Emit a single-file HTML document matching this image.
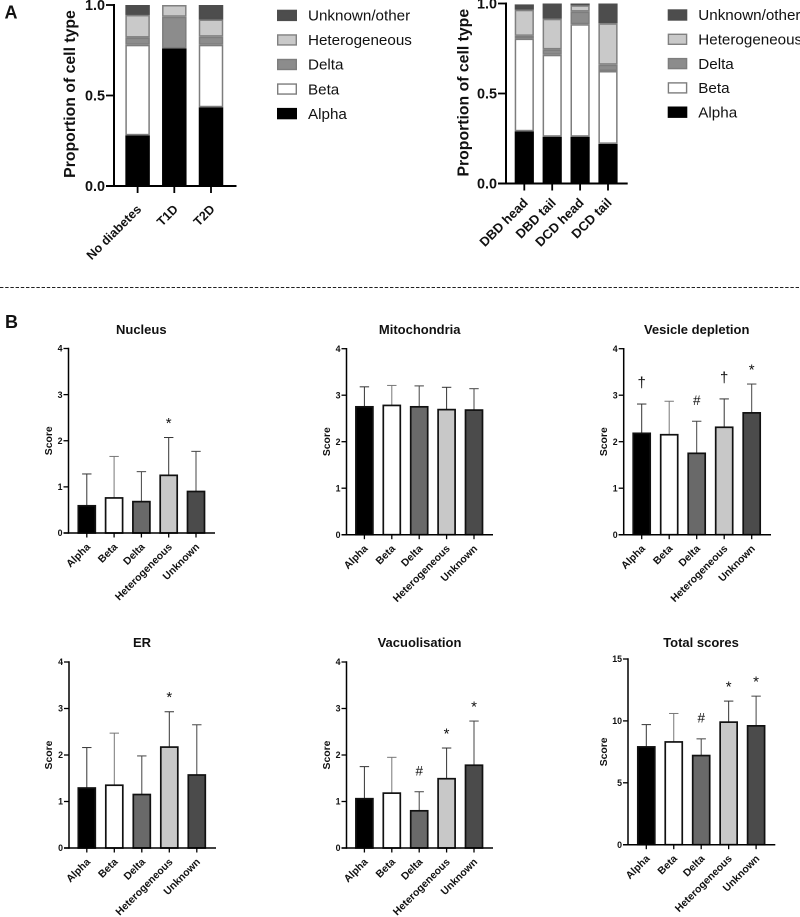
<!DOCTYPE html>
<html lang="en">
<head>
<meta charset="utf-8">
<title>Cell type proportions and scores</title>
<style>
html,body{margin:0;padding:0;background:#fff;width:800px;height:917px;overflow:hidden}
svg{display:block;filter:blur(0.3px)}
text{font-family:"Liberation Sans",sans-serif;fill:#111}
</style>
</head>
<body>
<svg id="figure" xmlns="http://www.w3.org/2000/svg" width="800" height="917" viewBox="0 0 800 917">
  <text x="4.5" y="18.5" font-size="18" font-weight="700">A</text>
  <text x="5" y="328" font-size="18" font-weight="700">B</text>
  <line x1="0" y1="287.5" x2="800" y2="287.5" stroke="#222" stroke-width="1" stroke-dasharray="3.4 1.8"></line>
</svg>
<script>
// Stacked proportions: diabetes groups
const diabetesGroups = ['No diabetes', 'T1D', 'T2D'];
const diabetesAlpha = [0.28, 0.76, 0.435];
const diabetesBeta = [0.50, 0, 0.345];
const diabetesDelta = [0.04, 0.175, 0.045];
const diabetesHet = [0.125, 0.065, 0.095];
const diabetesUnknown = [0.055, 0, 0.08];

// Stacked proportions: donor groups
const donorGroups = ['DBD head', 'DBD tail', 'DCD head', 'DCD tail'];
const donorAlpha = [0.29, 0.26, 0.26, 0.22];
const donorBeta = [0.515, 0.455, 0.625, 0.405];
const donorDelta = [0.015, 0.03, 0.07, 0.035];
const donorHet = [0.145, 0.17, 0.035, 0.23];
const donorUnknown = [0.03, 0.085, 0.01, 0.11];

const stackTicks = ['0.0', '0.5', '1.0'];
const legendLabels = ['Unknown/other', 'Heterogeneous', 'Delta', 'Beta', 'Alpha'];

// Score panels
const cellTypes = ['Alpha', 'Beta', 'Delta', 'Heterogeneous', 'Unknown'];
const scoreTicks = ['0', '1', '2', '3', '4'];
const totalTicks = ['0', '5', '10', '15'];

const nucleusMeans = [0.59, 0.76, 0.68, 1.25, 0.90];
const nucleusTops = [1.28, 1.66, 1.33, 2.07, 1.77];
const nucleusMarks = ['', '', '', '*', ''];

const mitoMeans = [2.75, 2.78, 2.75, 2.69, 2.68];
const mitoTops = [3.18, 3.21, 3.20, 3.17, 3.14];
const mitoMarks = ['', '', '', '', ''];

const vesicleMeans = [2.18, 2.15, 1.75, 2.31, 2.62];
const vesicleTops = [2.81, 2.87, 2.44, 2.92, 3.24];
const vesicleMarks = ['†', '', '#', '†', '*'];

const erMeans = [1.29, 1.35, 1.15, 2.17, 1.57];
const erTops = [2.16, 2.47, 1.98, 2.93, 2.65];
const erMarks = ['', '', '', '*', ''];

const vacuoleMeans = [1.06, 1.18, 0.80, 1.49, 1.78];
const vacuoleTops = [1.75, 1.95, 1.21, 2.15, 2.73];
const vacuoleMarks = ['', '', '#', '*', '*'];

const totalMeans = [7.9, 8.3, 7.2, 9.9, 9.6];
const totalTops = [9.7, 10.6, 8.55, 11.6, 12.0];
const totalMarks = ['', '', '#', '*', '*'];

// Styling and layout
const NS = 'http://www.w3.org/2000/svg';
const svg = document.getElementById('figure');
const stackFills = ['#000000', '#ffffff', '#8c8c8c', '#c9c9c9', '#4d4d4d'];
const stackStrokes = ['#000000', '#7d7d7d', '#7d7d7d', '#808080', '#4d4d4d'];
const stackNames = ['alpha', 'beta', 'delta', 'heterogeneous', 'unknown'];
const legendOrder = [4, 3, 2, 1, 0];
const scoreFills = ['#000000', '#ffffff', '#696969', '#c8c8c8', '#4b4b4b'];
const errorColors = ['#333333', '#777777', '#444444', '#333333', '#444444'];
const markOffsets = {'*': 9.7, '†': 16.3, '#': 16.3};
const markSizes = {'*': 15, '†': 15, '#': 13.5};

function make(tag, attrs, parent) {
  const el = document.createElementNS(NS, tag);
  for (const k in attrs) el.setAttribute(k, attrs[k]);
  (parent || svg).appendChild(el);
  return el;
}

function scaleY(layout, maxValue, value) {
  return layout.y0 - (value / maxValue) * (layout.y0 - layout.yTop);
}

function scaleX(layout, index) {
  return layout.xFirst + index * layout.xStep;
}

function drawStack(name, layout, groups, series) {
  const g = make('g', {});
  
  

  groups.forEach(function (group, i) {
    let cumulative = 0;
    const cx = scaleX(layout, i);
    series.forEach(function (values, s) {
      const v = values[i];
      if (v > 0) {
        const top = scaleY(layout, 1, cumulative + v);
        const bottom = scaleY(layout, 1, cumulative);
        const seg = make('rect', {
          x: cx - layout.barWidth / 2 + 0.75, y: top + 0.75,
          width: layout.barWidth - 1.5, height: Math.max(bottom - top - 1.5, 0.4),
          fill: stackFills[s], stroke: stackStrokes[s], 'stroke-width': 1.5
        }, g);
        
        
      }
      cumulative += v;
    });

    const tick = make('line', {x1: cx, x2: cx, y1: layout.y0, y2: layout.y0 + 7, stroke: '#000', 'stroke-width': 1.8}, g);
    
    

    const ax = cx + 4.5;
    const ay = layout.y0 + layout.catDrop;
    const label = make('text', {
      x: ax, y: ay, 'text-anchor': 'end', 'font-size': layout.catSize, 'font-weight': 700,
      transform: 'rotate(-45 ' + ax + ' ' + ay + ')'
    }, g);
    label.textContent = group;
    
    
  });

  stackTicks.forEach(function (t) {
    const y = scaleY(layout, 1, parseFloat(t));
    const tick = make('line', {x1: layout.axisX - 8, x2: layout.axisX, y1: y, y2: y, stroke: '#000', 'stroke-width': 1.8}, g);
    
    
    const label = make('text', {x: layout.axisX - 9, y: y + 5.2, 'text-anchor': 'end', 'font-size': 14.4, 'font-weight': 700}, g);
    label.textContent = t;
    
    
  });

  const yAxis = make('line', {x1: layout.axisX, x2: layout.axisX, y1: layout.yTop - 1, y2: layout.y0 + 1, stroke: '#000', 'stroke-width': 2}, g);
  
  
  const xAxis = make('line', {x1: layout.axisX - 8, x2: layout.xEnd, y1: layout.y0, y2: layout.y0, stroke: '#000', 'stroke-width': 2}, g);
  
  

  const tx = layout.titleX;
  const ty = layout.titleY;
  const title = make('text', {
    x: tx, y: ty, 'text-anchor': 'middle', 'font-size': 15.8, 'font-weight': 700,
    transform: 'rotate(-90 ' + tx + ' ' + ty + ')'
  }, g);
  title.textContent = 'Proportion of cell type';
  
  

  legendLabels.forEach(function (text, i) {
    const s = legendOrder[i];
    const cy = layout.legendY + i * layout.legendStep;
    const swatch = make('rect', {
      x: layout.legendX + 0.7, y: cy - 5, width: layout.legendW - 1.4, height: 10,
      fill: stackFills[s], stroke: stackStrokes[s], 'stroke-width': 1.4
    }, g);
    
    
    const label = make('text', {x: layout.legendTextX, y: cy + 5.2, 'font-size': 15.2, fill: '#222'}, g);
    label.textContent = text;
    
    
  });
}

function drawScore(name, title, layout, ticks, means, tops, marks) {
  const maxValue = parseFloat(ticks[ticks.length - 1]);
  const g = make('g', {});
  
  

  const heading = make('text', {x: layout.titleX, y: layout.headY, 'text-anchor': 'middle', 'font-size': 13, 'font-weight': 700}, g);
  heading.textContent = title;
  
  

  cellTypes.forEach(function (cat, i) {
    const cx = scaleX(layout, i);
    const yMean = scaleY(layout, maxValue, means[i]);
    const yTop = scaleY(layout, maxValue, tops[i]);

    const stem = make('line', {x1: cx, x2: cx, y1: yTop, y2: yMean, stroke: errorColors[i], 'stroke-width': 1}, g);
    
    
    const cap = make('line', {x1: cx - 4.7, x2: cx + 4.7, y1: yTop, y2: yTop, stroke: errorColors[i], 'stroke-width': 1}, g);
    
    

    const bar = make('rect', {
      x: cx - 8.5, y: yMean, width: 17, height: layout.y0 - yMean,
      fill: scoreFills[i], stroke: '#111', 'stroke-width': 1.7
    }, g);
    
    

    const tick = make('line', {x1: cx, x2: cx, y1: layout.y0, y2: layout.y0 + 4.5, stroke: '#000', 'stroke-width': 1.3}, g);
    
    

    const ax = cx + 4;
    const ay = layout.y0 + 14.5;
    const label = make('text', {
      x: ax, y: ay, 'text-anchor': 'end', 'font-size': 10.4, 'font-weight': 700, fill: '#222',
      transform: 'rotate(-45 ' + ax + ' ' + ay + ')'
    }, g);
    label.textContent = cat;
    
    

    if (marks[i]) {
      const mark = make('text', {
        x: cx, y: yTop - markOffsets[marks[i]], 'text-anchor': 'middle',
        'font-size': markSizes[marks[i]], fill: '#222'
      }, g);
      mark.textContent = marks[i];
      
      
    }
  });

  ticks.forEach(function (t) {
    const y = scaleY(layout, maxValue, parseFloat(t));
    const tick = make('line', {x1: layout.axisX - 5, x2: layout.axisX, y1: y, y2: y, stroke: '#000', 'stroke-width': 1.3}, g);
    
    
    const label = make('text', {x: layout.axisX - 6, y: y + 3.2, 'text-anchor': 'end', 'font-size': 8.8, 'font-weight': 700, fill: '#222'}, g);
    label.textContent = t;
    
    
  });

  const yAxis = make('line', {x1: layout.axisX, x2: layout.axisX, y1: layout.yTop - 0.7, y2: layout.y0 + 0.7, stroke: '#000', 'stroke-width': 1.5}, g);
  
  
  const xAxis = make('line', {x1: layout.axisX - 5, x2: layout.xEnd, y1: layout.y0, y2: layout.y0, stroke: '#000', 'stroke-width': 1.5}, g);
  
  

  const tx = layout.scoreX;
  const ty = (layout.y0 + layout.yTop) / 2;
  const axisTitle = make('text', {
    x: tx, y: ty, 'text-anchor': 'middle', 'font-size': 10.4, 'font-weight': 700,
    transform: 'rotate(-90 ' + tx + ' ' + ty + ')'
  }, g);
  axisTitle.textContent = 'Score';
  
  
}

drawStack('diabetes', {
  axisX: 114, y0: 186, yTop: 5, xEnd: 236.5, xFirst: 137.6, xStep: 36.7, barWidth: 24.5, catSize: 12.6, catDrop: 24,
  titleX: 75, titleY: 94, legendX: 277, legendW: 20, legendTextX: 308, legendY: 15.4, legendStep: 24.55
}, diabetesGroups, [diabetesAlpha, diabetesBeta, diabetesDelta, diabetesHet, diabetesUnknown]);

drawStack('donor', {
  axisX: 506, y0: 183.5, yTop: 3.5, xEnd: 627.7, xFirst: 524.3, xStep: 27.9, barWidth: 19.2, catSize: 13, catDrop: 20,
  titleX: 468.5, titleY: 92.7, legendX: 667.7, legendW: 19.6, legendTextX: 698.3, legendY: 15, legendStep: 24.3
}, donorGroups, [donorAlpha, donorBeta, donorDelta, donorHet, donorUnknown]);

drawScore('nucleus', 'Nucleus', {axisX: 68.5, y0: 533, yTop: 348.5, xEnd: 215, xFirst: 86.8, xStep: 27.3, titleX: 141.3, headY: 334, scoreX: 52}, scoreTicks, nucleusMeans, nucleusTops, nucleusMarks);
drawScore('mitochondria', 'Mitochondria', {axisX: 346.5, y0: 534.7, yTop: 348.7, xEnd: 493, xFirst: 364.4, xStep: 27.4, titleX: 419.7, headY: 334, scoreX: 330}, scoreTicks, mitoMeans, mitoTops, mitoMarks);
drawScore('vesicle-depletion', 'Vesicle depletion', {axisX: 623.7, y0: 534.7, yTop: 348.7, xEnd: 771, xFirst: 641.7, xStep: 27.5, titleX: 696.7, headY: 334, scoreX: 607}, scoreTicks, vesicleMeans, vesicleTops, vesicleMarks);
drawScore('er', 'ER', {axisX: 69, y0: 848, yTop: 662, xEnd: 216, xFirst: 86.8, xStep: 27.5, titleX: 142, headY: 647, scoreX: 52}, scoreTicks, erMeans, erTops, erMarks);
drawScore('vacuolisation', 'Vacuolisation', {axisX: 346.5, y0: 848, yTop: 662, xEnd: 493, xFirst: 364.4, xStep: 27.4, titleX: 419.5, headY: 647, scoreX: 330}, scoreTicks, vacuoleMeans, vacuoleTops, vacuoleMarks);
drawScore('total-scores', 'Total scores', {axisX: 628, y0: 844.7, yTop: 659, xEnd: 775.3, xFirst: 646.3, xStep: 27.45, titleX: 701, headY: 647, scoreX: 607}, totalTicks, totalMeans, totalTops, totalMarks);
</script>
</body>
</html>
